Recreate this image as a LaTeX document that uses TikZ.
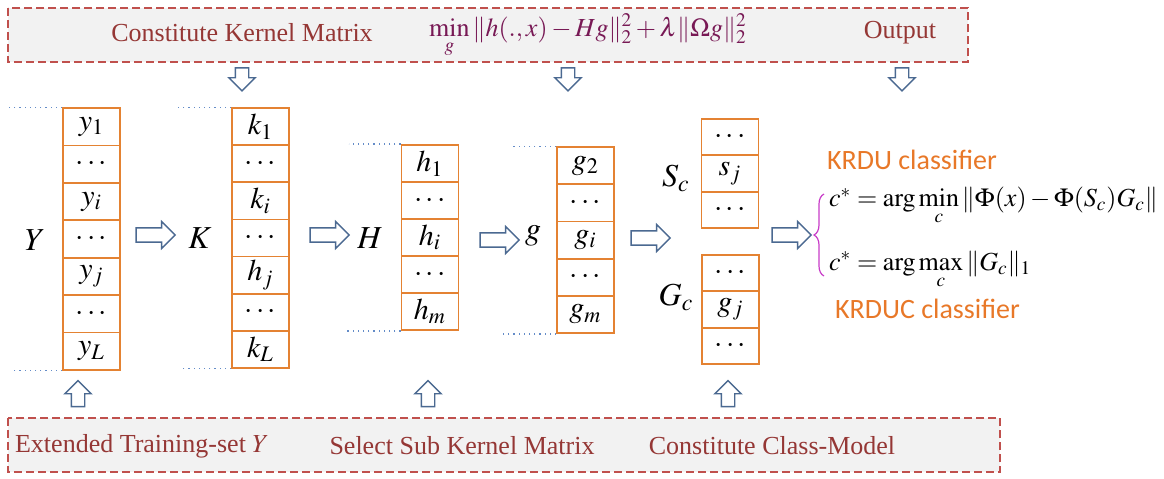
\documentclass[tikz,border=0pt]{standalone}
\usepackage{mathptmx}
\usepackage{fontspec}
\setmainfont{Liberation Serif}
\newfontfamily\labelsans{Carlito}
\usetikzlibrary{shapes.arrows, positioning, calc, decorations.pathreplacing}
\definecolor{bandred}{RGB}{192,80,77}
\definecolor{bandfill}{RGB}{242,242,242}
\definecolor{bandtext}{RGB}{149,55,53}
\definecolor{formulapurple}{RGB}{120,25,85}
\definecolor{cellorange}{RGB}{228,130,50}
\definecolor{clsorange}{RGB}{232,120,40}
\definecolor{arrowblue}{RGB}{75,105,145}
\definecolor{dotblue}{RGB}{100,140,200}
\definecolor{bracepink}{RGB}{200,60,200}
\tikzset{
  band/.style={draw=bandred, fill=bandfill, line width=1pt, dash pattern=on 4pt off 2pt},
  bandlabel/.style={text=bandtext, font=\fontsize{13}{15}\selectfont},
  cell/.style={rectangle, draw=cellorange, line width=0.9pt,
    minimum width=28.5pt, minimum height=18.6pt, inner sep=0pt,
    font=\fontsize{15}{17}\selectfont},
  varlabel/.style={font=\fontsize{16}{18}\selectfont},
  rarrow/.style={single arrow, draw=arrowblue, fill=white, line width=0.7pt,
    minimum height=19.5pt, minimum width=13pt, single arrow head extend=3.2pt,
    inner sep=3.2pt},
  darrow/.style={rarrow, shape border rotate=270, minimum height=11.5pt,
    minimum width=12.5pt, inner sep=3pt, single arrow head extend=3.2pt},
  uarrow/.style={darrow, shape border rotate=90, minimum height=13pt},
  dotline/.style={dotted, draw=dotblue, line width=0.6pt},
  cls/.style={text=clsorange, font=\labelsans\fontsize{14}{16}\selectfont}
}
\begin{document}
\begin{tikzpicture}[x=0.5pt, y=-0.5pt]
  \useasboundingbox (0,0) rectangle (1164,478);

  % top band
  \draw[band] (8,8) rectangle (968,62);
  \node[bandlabel] (kernel) at (242,33) {Constitute Kernel Matrix};
  \node[text=formulapurple, font=\fontsize{13}{15}\selectfont] (objective) at (588,36)
    {$\min\limits_{g} \| h(.,x)-Hg \|_2^2 + \lambda \| \Omega g \|_2^2$};
  \node[bandlabel] (output) at (900,33) {Output};
  \node[darrow] (dkernel) at (242,76) {};
  \node[darrow] (dobjective) at (568,76) {};
  \node[darrow] (doutput) at (902,76) {};

  % columns
  \foreach \t [count=\i] in {y_1,\cdots,y_i,\cdots,y_j,\cdots,y_L}
    \node[cell, minimum height=18.7pt] (Y\i) at (91.5,{108+18.7+37.43*(\i-1)}) {$\t$};
  \foreach \t [count=\i] in {k_1,\cdots,k_i,\cdots,h_j,\cdots,k_L}
    \node[cell, minimum height=18.57pt] (K\i) at (260.5,{108+18.57+37.14*(\i-1)}) {$\t$};
  \foreach \t [count=\i] in {h_1,\cdots,h_i,\cdots,h_m}
    \node[cell] (H\i) at (430,{145+18.5+37*(\i-1)}) {$\t$};
  \foreach \t [count=\i] in {g_2,\cdots,g_i,\cdots,g_m}
    \node[cell] (g\i) at (585.5,{147+18.6+37.2*(\i-1)}) {$\t$};
  \foreach \t [count=\i] in {\cdots,s_j,\cdots}
    \node[cell, minimum height=18.15pt] (S\i) at (730,{119+18.15+36.3*(\i-1)}) {$\t$};
  \foreach \t [count=\i] in {\cdots,g_j,\cdots}
    \node[cell, minimum height=18.15pt] (G\i) at (730.5,{255+18.15+36.3*(\i-1)}) {$\t$};

  \node[varlabel] (Ylab) at (35,240) {$Y$};
  \node[varlabel] (Klab) at (200,238) {$K$};
  \node[varlabel] (Hlab) at (370,238) {$H$};
  \node[varlabel] (glab) at (533,236) {$g$};
  \node[varlabel] (Slab) at (676,178) {$S_c$};
  \node[varlabel] (Glab) at (676,297) {$G_c$};

  \draw[dotline] (Y1.north west) -- ++(-55,0);
  \draw[dotline] (Y7.south west) -- ++(-51,0);
  \draw[dotline] (K1.north west) -- ++(-54,0);
  \draw[dotline] (K7.south west) -- ++(-50,0);
  \draw[dotline] (H1.north west) -- ++(-52,0);
  \draw[dotline] (H5.south west) -- ++(-56,0);
  \draw[dotline] (g1.north west) -- ++(-44,0);
  \draw[dotline] (g5.south west) -- ++(-54,0);

  \node[rarrow] (aYK) at (152,235) {};
  \node[rarrow] (aKH) at (326,235) {};
  \node[rarrow] (aHg) at (496,240) {};
  \node[rarrow] (agS) at (647,238) {};
  \node[rarrow] (aSc) at (788,235) {};

  % classifiers
  \node[cls, anchor=west] (krdu) at (820,160) {KRDU classifier};
  \node[anchor=west, font=\fontsize{13}{15}\selectfont] (rule1) at (822,206)
    {$c^{*}=\arg\min\limits_{c} \| \Phi(x)-\Phi(S_c)G_c \|$};
  \node[anchor=west, font=\fontsize{13}{15}\selectfont] (rule2) at (822,270)
    {$c^{*}=\arg\max\limits_{c} \| G_c \|_1$};
  \node[cls, anchor=west] (krduc) at (828,309) {KRDUC classifier};
  \draw[bracepink, line width=0.6pt, decorate, decoration={brace, amplitude=5pt}]
    (824,276) -- (824,194);

  % bottom band
  \node[uarrow] (utrain) at (78,397) {};
  \node[uarrow] (usub) at (428,397) {};
  \node[uarrow] (uclass) at (728,397) {};
  \draw[band] (8,418) rectangle (1000,472);
  \node[bandlabel] (train) at (142,446) {Extended Training-set $Y$};
  \node[bandlabel] (sub) at (462,446) {Select Sub Kernel Matrix};
  \node[bandlabel] (class) at (772,446) {Constitute Class-Model};
\end{tikzpicture}
\end{document}
